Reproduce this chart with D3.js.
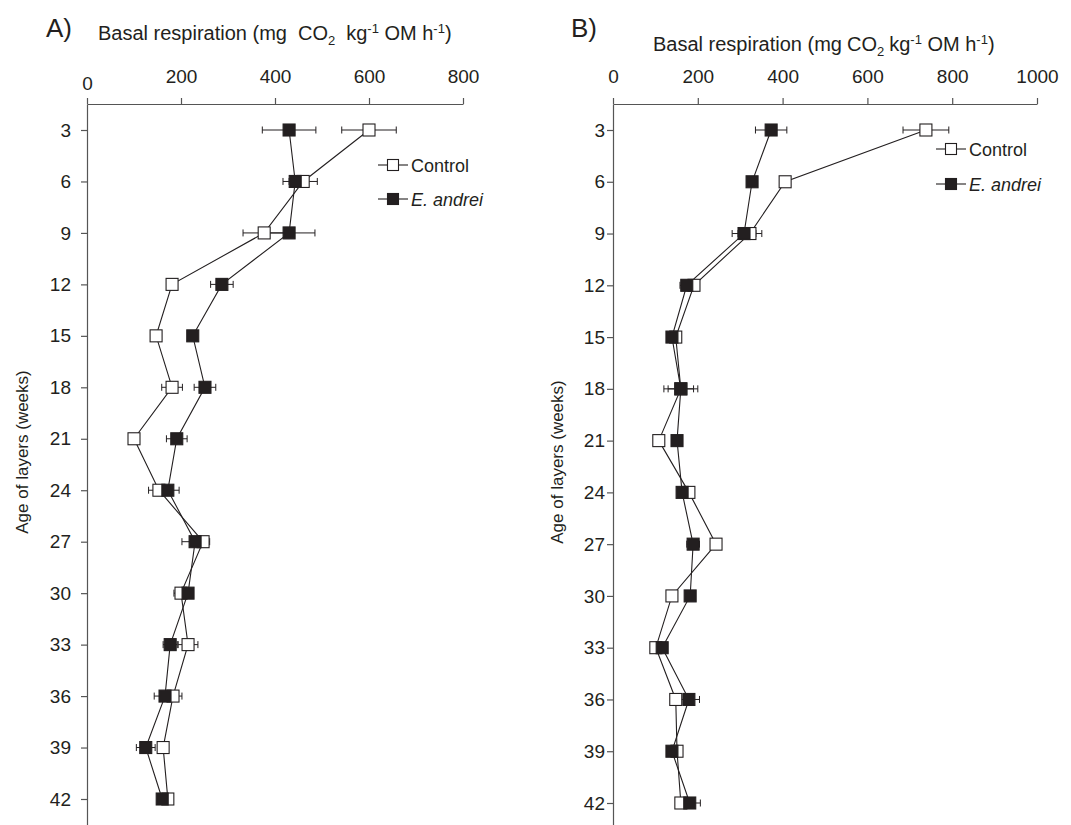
<!DOCTYPE html>
<html>
<head>
<meta charset="utf-8">
<script src="https://cdn.jsdelivr.net/npm/d3@7"></script>
<style>
  body { margin: 0; background: #fff; }
  text { font-family: "Liberation Sans", Arial, sans-serif; fill: #231f20; }
</style>
</head>
<body>
<div id="chart"></div>
<script>
// layer age (weeks)
var weeks = [3, 6, 9, 12, 15, 18, 21, 24, 27, 30, 33, 36, 39, 42];

// panel A
var controlA    = [600, 460, 377, 181, 147, 181, 100, 153, 247, 200, 215, 183, 162, 172];
var controlAErr = [58, 30, 45, 6, 10, 22, 4, 22, 14, 15, 21, 19, 6, 5];
var andreiA     = [430, 443, 430, 287, 225, 251, 191, 172, 230, 215, 177, 166, 125, 160];
var andreiAErr  = [57, 26, 55, 24, 8, 23, 22, 24, 28, 5, 15, 23, 20, 5];
var ticksA = [0, 200, 400, 600, 800];

// panel B
var controlB    = [738, 406, 323, 191, 148, 160, 108, 179, 243, 139, 101, 148, 151, 160];
var controlBErr = [54, 8, 28, 8, 6, 40, 6, 6, 6, 6, 6, 6, 6, 6];
var andreiB     = [373, 328, 309, 174, 139, 160, 151, 163, 189, 182, 116, 179, 139, 181];
var andreiBErr  = [37, 10, 28, 16, 6, 30, 12, 6, 15, 6, 6, 25, 6, 25];
var ticksB = [0, 200, 400, 600, 800, 1000];

var ink = "#231f20";

var svg = d3.select("#chart").append("svg")
    .attr("width", 1071)
    .attr("height", 825);

svg.append("rect").attr("width", 1071).attr("height", 825).attr("fill", "#fff");

function drawPanel(p) {
    var g = svg.append("g");

    var x = d3.scaleLinear().domain([0, d3.max(p.ticks)]).range([p.x0, p.x1]);
    var y = d3.scaleLinear().domain([3, 42]).range([130, p.y42]);
    // axis scale stretched to the drawn axis length
    var yAxisScale = y.copy().domain([y.invert(104), y.invert(825)]).range([104, 825]);

    // top axis
    var xAxis = g.append("g")
        .attr("transform", "translate(0,104)")
        .call(d3.axisTop(x).tickValues(p.ticks).tickFormat(d3.format("d"))
            .tickSize(6).tickSizeOuter(0).tickPadding(15));
    xAxis.selectAll("text").attr("font-size", 19).attr("fill", ink);
    if (p.dropZero) {
        xAxis.selectAll("text").filter(function(d) { return d === 0; }).attr("dy", "0.35em");
    }

    // left axis
    var yAxis = g.append("g")
        .attr("transform", "translate(" + p.x0 + ",0)")
        .call(d3.axisLeft(yAxisScale).tickValues(weeks).tickSize(p.yTick).tickSizeOuter(0).tickPadding(p.yPad));
    yAxis.selectAll("text").attr("font-size", 19).attr("fill", ink);

    g.selectAll(".domain, .tick line").attr("stroke", "#555").attr("stroke-width", 1.2);

    var series = [
        { vals: p.control, err: p.controlErr, fill: "#fff" },
        { vals: p.andrei, err: p.andreiErr, fill: ink }
    ];

    var line = d3.line()
        .x(function(d) { return x(d.v); })
        .y(function(d) { return y(d.w); });

    series.forEach(function(s) {
        s.pts = weeks.map(function(w, i) { return { w: w, v: s.vals[i], e: s.err[i] }; });
        g.append("path")
            .datum(s.pts)
            .attr("d", line)
            .attr("fill", "none")
            .attr("stroke", ink)
            .attr("stroke-width", 1.1);
    });

    // error bars
    series.forEach(function(s) {
        var eb = g.append("g").selectAll("g").data(s.pts).enter().append("g");
        eb.append("line")
            .attr("x1", function(d) { return x(d.v - d.e); })
            .attr("x2", function(d) { return x(d.v + d.e); })
            .attr("y1", function(d) { return y(d.w); })
            .attr("y2", function(d) { return y(d.w); });
        eb.append("line")
            .attr("x1", function(d) { return x(d.v - d.e); })
            .attr("x2", function(d) { return x(d.v - d.e); })
            .attr("y1", function(d) { return y(d.w) - 3.5; })
            .attr("y2", function(d) { return y(d.w) + 3.5; });
        eb.append("line")
            .attr("x1", function(d) { return x(d.v + d.e); })
            .attr("x2", function(d) { return x(d.v + d.e); })
            .attr("y1", function(d) { return y(d.w) - 3.5; })
            .attr("y2", function(d) { return y(d.w) + 3.5; });
        eb.selectAll("line").attr("stroke", ink).attr("stroke-width", 1);
    });

    // squares
    var sz = 12;
    series.forEach(function(s) {
        g.append("g").selectAll("rect").data(s.pts).enter().append("rect")
            .attr("x", function(d) { return x(d.v) - sz / 2; })
            .attr("y", function(d) { return y(d.w) - sz / 2; })
            .attr("width", sz)
            .attr("height", sz)
            .attr("fill", s.fill)
            .attr("stroke", ink)
            .attr("stroke-width", 1.1);
    });

    // legend
    var leg = [
        { name: "Control", fill: "#fff", italic: false },
        { name: "E. andrei", fill: ink, italic: true }
    ];
    leg.forEach(function(l, i) {
        var ly = p.legY + i * p.legGap;
        g.append("line")
            .attr("x1", p.legX).attr("x2", p.legX + 30)
            .attr("y1", ly).attr("y2", ly)
            .attr("stroke", ink).attr("stroke-width", 1.1);
        g.append("rect")
            .attr("x", p.legX + 15 - 5.5).attr("y", ly - 5.5)
            .attr("width", 11).attr("height", 11)
            .attr("fill", l.fill).attr("stroke", ink).attr("stroke-width", 1.1);
        g.append("text")
            .attr("x", p.legX + 33).attr("y", ly + 7)
            .attr("font-size", 18)
            .attr("font-style", l.italic ? "italic" : "normal")
            .text(l.name);
    });

    // panel letter
    g.append("text").attr("x", p.letterX).attr("y", 37).attr("font-size", 26).text(p.letter);

    // x title
    var t = g.append("text").attr("x", p.titleX).attr("y", p.titleY).attr("font-size", 20);
    t.append("tspan").text("Basal respiration (mg");
    t.append("tspan").attr("dx", p.wide ? 11 : 5).text("CO");
    t.append("tspan").attr("dy", 5).attr("font-size", 13).text("2");
    t.append("tspan").attr("dy", -5).attr("dx", p.wide ? 11 : 5).text("kg");
    t.append("tspan").attr("dy", -7).attr("font-size", 13).text("-1");
    t.append("tspan").attr("dy", 7).text(" OM h");
    t.append("tspan").attr("dy", -7).attr("font-size", 13).text("-1");
    t.append("tspan").attr("dy", 7).text(")");

    // y title
    g.append("text")
        .attr("transform", "translate(" + p.yTitleX + "," + p.yTitleY + ") rotate(-90)")
        .attr("text-anchor", "middle")
        .attr("font-size", 17)
        .text("Age of layers (weeks)");
}

drawPanel({
    letter: "A)", letterX: 46,
    x0: 87, x1: 463, y42: 799, ticks: ticksA, dropZero: true, yTick: 6, yPad: 10,
    control: controlA, controlErr: controlAErr, andrei: andreiA, andreiErr: andreiAErr,
    legX: 378, legY: 165, legGap: 34,
    titleX: 98, titleY: 40, wide: true,
    yTitleX: 28, yTitleY: 452
});

drawPanel({
    letter: "B)", letterX: 571,
    x0: 613, x1: 1037, y42: 803, ticks: ticksB, dropZero: false, yTick: 6, yPad: 2,
    control: controlB, controlErr: controlBErr, andrei: andreiB, andreiErr: andreiBErr,
    legX: 936, legY: 149, legGap: 35,
    titleX: 653, titleY: 51, wide: false,
    yTitleX: 563, yTitleY: 462
});
</script>
</body>
</html>
